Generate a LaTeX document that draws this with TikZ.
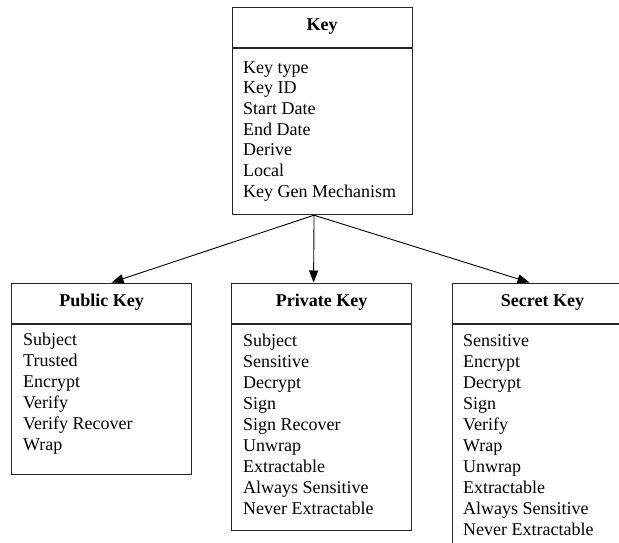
\documentclass[tikz,border=0pt]{standalone}
\usepackage{fontspec}
\setmainfont{Liberation Serif}
\usetikzlibrary{arrows.meta}
\begin{document}
\begin{tikzpicture}[x=1pt,y=-1pt,
  frame/.style={draw=black!85, line width=1.1pt, minimum width=180pt, inner sep=0pt, anchor=north west},
  title/.style={frame, minimum height=40pt, text height=9pt, text depth=3pt,
    font=\fontsize{18}{20.9}\selectfont\bfseries},
  body/.style={frame},
  items/.style={anchor=base west, inner sep=0pt, font=\fontsize{18}{21.1}\selectfont},
  link/.style={line width=0.9pt, -{Triangle[length=12pt,width=9pt]}}]
\useasboundingbox (0,0) rectangle (619,542);
\clip (0,0) rectangle (619,542);

% base class
\node[title] (keyh) at (231.5,6.5) {Key};
\node[body, minimum height=166.5pt] (keyb) at (keyh.south west) {};
\node[items, font=\fontsize{18}{20.7}\selectfont] (keyl) at (243,73) {\begin{tabular}[t]{@{}l@{}}
  Key type\\ Key ID\\ Start Date\\ End Date\\ Derive\\ Local\\ Key Gen Mechanism
\end{tabular}};

% public key
\node[title] (pubh) at (11,282.5) {Public Key};
\node[body, minimum height=150.5pt] (pubb) at (pubh.south west) {};
\node[items] (publ) at (23,345) {\begin{tabular}[t]{@{}l@{}}
  Subject\\ Trusted\\ Encrypt\\ Verify\\ Verify Recover\\ Wrap
\end{tabular}};

% private key
\node[title] (prvh) at (231,282.5) {Private Key};
\node[body, minimum height=206.5pt] (prvb) at (prvh.south west) {};
\node[items] (prvl) at (243,346) {\begin{tabular}[t]{@{}l@{}}
  Subject\\ Sensitive\\ Decrypt\\ Sign\\ Sign Recover\\ Unwrap\\ Extractable\\
  Always Sensitive\\ Never Extractable
\end{tabular}};

% secret key
\node[title] (sech) at (452,282.5) {Secret Key};
\node[body, minimum height=250pt] (secb) at (sech.south west) {};
\node[items] (secl) at (463,346) {\begin{tabular}[t]{@{}l@{}}
  Sensitive\\ Encrypt\\ Decrypt\\ Sign\\ Verify\\ Wrap\\ Unwrap\\ Extractable\\
  Always Sensitive\\ Never Extractable
\end{tabular}};

% inheritance arrows
\coordinate (split) at ([xshift=-8pt]keyb.south);
\draw[link] (split) -- ([xshift=10pt]pubh.north);
\draw[link] (split) -- ([xshift=-8pt]prvh.north);
\draw[link] (split) -- ([xshift=-13pt]sech.north);
\end{tikzpicture}
\end{document}
